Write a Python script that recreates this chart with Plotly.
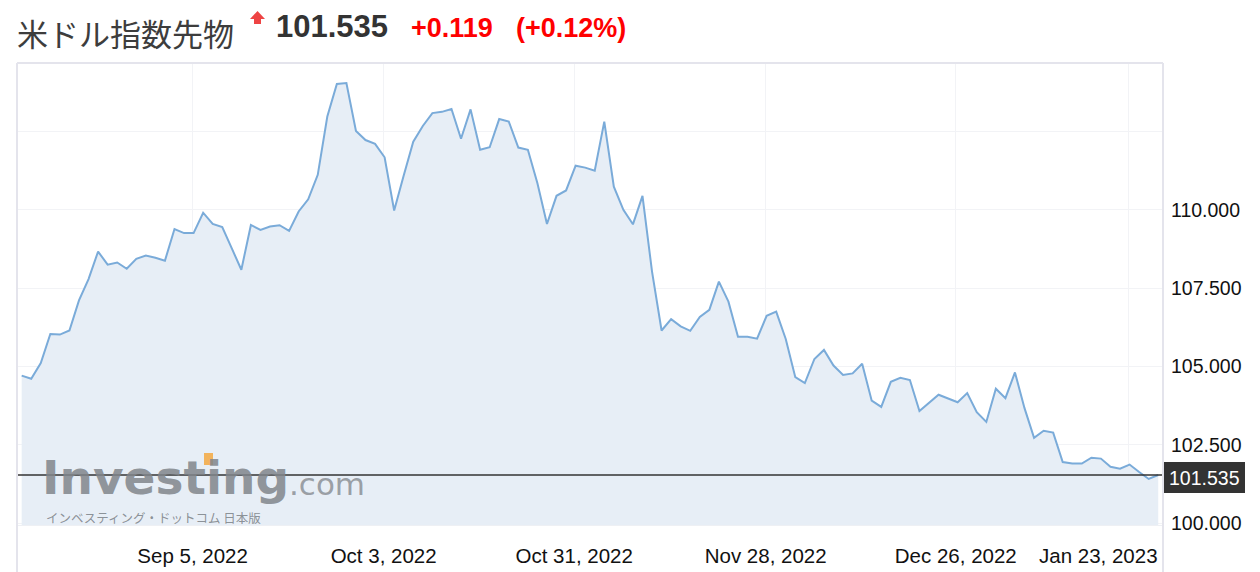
import plotly.graph_objects as go

# 米ドル指数先物 daily closes, oldest -> newest
values = [
    104.71, 104.61, 105.11, 106.04, 106.02, 106.15, 107.11, 107.79, 108.67, 108.25,
    108.32, 108.12, 108.44, 108.54, 108.47, 108.38, 109.39, 109.26, 109.26, 109.91,
    109.55, 109.45, 108.77, 108.09, 109.52, 109.36, 109.47, 109.51, 109.33, 109.95,
    110.34, 111.12, 112.98, 114.02, 114.05, 112.52, 112.23, 112.11, 111.68, 109.98,
    111.10, 112.18, 112.68, 113.09, 113.13, 113.22, 112.27, 113.21, 111.92, 112.00,
    112.90, 112.82, 111.99, 111.92, 110.85, 109.55, 110.45, 110.62, 111.41, 111.35,
    111.25, 112.82, 110.74, 110.00, 109.54, 110.45, 108.03, 106.15, 106.51, 106.28,
    106.14, 106.58, 106.81, 107.71, 107.07, 105.95, 105.95, 105.89, 106.62, 106.75,
    105.88, 104.66, 104.47, 105.24, 105.53, 105.03, 104.73, 104.78, 105.09, 103.91,
    103.71, 104.51, 104.64, 104.57, 103.58, 103.83, 104.10, 103.98, 103.86, 104.15,
    103.54, 103.23, 104.29, 103.99, 104.81, 103.67, 102.72, 102.95, 102.89, 101.95,
    101.90, 101.90, 102.09, 102.06, 101.80, 101.74, 101.87, 101.63, 101.41, 101.535,
]
last_price = 101.535
change = "+0.119"
change_pct = "(+0.12%)"
title_text = "米ドル指数先物"

# week ticks, placed on the trading-day index
tick_pos = [17.9, 37.9, 57.85, 77.9, 97.8, 115.9]
tick_text = ["Sep 5, 2022", "Oct 3, 2022", "Oct 31, 2022", "Nov 28, 2022", "Dec 26, 2022", ""]
last_tick_label = "Jan 23, 2023"
y_ticks = [100.0, 102.5, 105.0, 107.5, 110.0, 112.5]
y_tick_text = ["100.000", "102.500", "105.000", "107.500", "110.000", ""]

# plot box in pixels
L, R, T, B = 17, 1163, 63, 525
W, H = 1260, 572


def px(x):
    return (x - L) / (R - L)


def py(y):
    return (B - y) / (B - T)


def note(text, x, y, size, color, family="Liberation Sans", anchor="left"):
    return dict(text=text, xref="paper", yref="paper", x=px(x), y=py(y),
                xanchor=anchor, yanchor="middle", showarrow=False,
                font=dict(family=family, size=size, color=color))


idx = list(range(len(values)))

fig = go.Figure()
fig.add_trace(go.Scatter(
    x=idx, y=values, mode="lines",
    line=dict(color="#7aabd9", width=2),
    fill="tozeroy", fillcolor="#e7eef6",
    hoverinfo="skip", showlegend=False,
))

shapes = [
    # price line
    dict(type="line", xref="paper", yref="y", x0=0, x1=1, y0=last_price, y1=last_price,
         line=dict(color="#333333", width=1.6), layer="above"),
    # price box on the axis
    dict(type="rect", xref="paper", yref="paper", x0=px(1163), x1=px(1245), y0=py(493), y1=py(462),
         fillcolor="#333333", line=dict(width=0)),
    # frame
    dict(type="line", xref="paper", yref="paper", x0=0, x1=0, y0=py(572), y1=1,
         line=dict(color="#e4e4ec", width=2)),
    dict(type="line", xref="paper", yref="paper", x0=1, x1=1, y0=py(572), y1=1,
         line=dict(color="#e4e4ec", width=2)),
    dict(type="line", xref="paper", yref="paper", x0=0, x1=1, y0=1, y1=1,
         line=dict(color="#e4e4ec", width=2)),
    # orange tip of the logo "t"
    dict(type="rect", xref="paper", yref="paper", x0=px(204), x1=px(213), y0=py(465), y1=py(453),
         fillcolor="#f2b35c", line=dict(width=0), layer="above"),
    # red up arrow next to the title
    dict(type="path", xref="paper", yref="paper",
         path=f"M {px(250)},{py(19)} L {px(257.5)},{py(11)} L {px(265)},{py(19)} L {px(261)},{py(19)} "
              f"L {px(261)},{py(24)} L {px(254)},{py(24)} L {px(254)},{py(19)} Z",
         fillcolor="#ee4444", line=dict(width=0)),
]

annotations = [
    note(title_text, 15, 32, 31, "#3d3d3d", family="Noto Sans CJK JP"),
    note(f"<b>{last_price:.3f}</b>", 274, 27, 31, "#333333"),
    note(f"<b>{change}</b>", 409, 28, 27, "#ff0000"),
    note(f"<b>{change_pct}</b>", 514, 28, 27, "#ff0000"),
    note(f"{last_price:.3f}", 1204, 478, 19.5, "#ffffff", anchor="center"),
    note(last_tick_label, 1098, 555, 20.5, "#111111", anchor="center"),
    # watermark
    note("<b>Investing</b>", 40, 477, 47, "rgba(128,133,139,0.85)", family="DejaVu Sans"),
    note(".com", 287, 484, 31, "rgba(140,145,150,0.85)", family="DejaVu Sans"),
    note("インベスティング・ドットコム 日本版", 44, 517, 12.5, "rgba(128,133,139,0.9)",
         family="Noto Sans CJK JP"),
]

fig.update_layout(
    width=W, height=H,
    margin=dict(l=L, r=W - R, t=T, b=H - B, autoexpand=False),
    paper_bgcolor="#ffffff", plot_bgcolor="#ffffff",
    shapes=shapes, annotations=annotations,
    hovermode=False,
    xaxis=dict(
        range=[-0.49, len(values) - 0.5],
        tickvals=tick_pos, ticktext=tick_text,
        showgrid=True, gridcolor="#f2f3f6", gridwidth=1,
        zeroline=False, showline=True, linecolor="#eef0f4", linewidth=1,
        ticks="", ticklabelstandoff=12, automargin=False,
        tickfont=dict(family="Liberation Sans", size=20.5, color="#111111"),
        fixedrange=True,
    ),
    yaxis=dict(
        side="right",
        range=[99.94, 114.69],
        tickvals=y_ticks, ticktext=y_tick_text,
        showgrid=True, gridcolor="#f2f3f6", gridwidth=1,
        zeroline=False, showline=False,
        ticks="", ticklabelstandoff=7, automargin=False,
        tickfont=dict(family="Liberation Sans", size=19.5, color="#111111"),
        fixedrange=True,
    ),
)

fig.write_html(
    "out.html",
    config={"displayModeBar": False},
    post_script="document.body.style.margin='0';document.body.style.overflow='hidden';",
)
